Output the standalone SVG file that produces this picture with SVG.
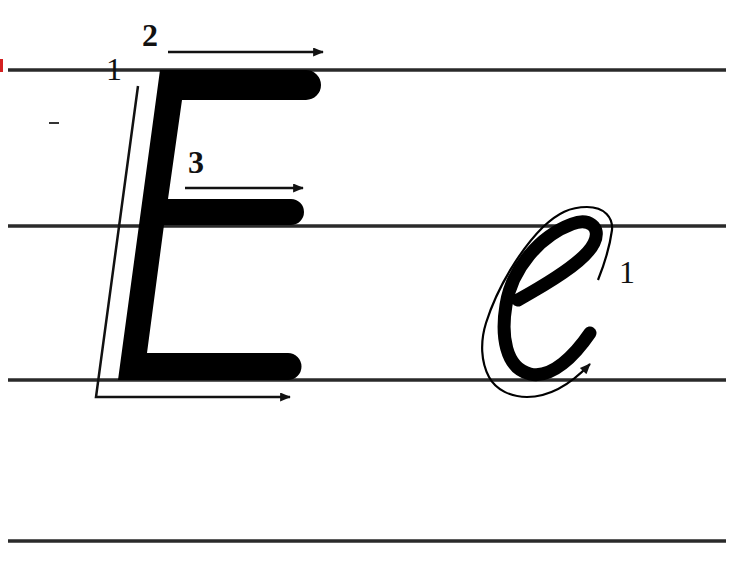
<svg xmlns="http://www.w3.org/2000/svg" width="748" height="576" viewBox="0 0 748 576">
  <defs>
    <style>
      .rule { stroke: #2a2a2a; stroke-width: 3.5; fill: none; }
      .guide { stroke: #111; stroke-width: 2.5; fill: none; }
      .num { font-family: "Liberation Serif", "DejaVu Serif", serif; font-size: 32px; fill: #111; }
    </style>
    <marker id="ah" viewBox="0 0 12 10" refX="11" refY="5" markerWidth="14" markerHeight="9" markerUnits="userSpaceOnUse" orient="auto">
      <path d="M0,0 L12,5 L0,10 z" fill="#111"/>
    </marker>
  </defs>
  <rect width="748" height="576" fill="#fff"/>

  <g id="ruling">
    <rect x="0" y="59" width="3" height="13" fill="#d42020"/>
    <line class="rule" x1="8" y1="70" x2="726" y2="70"/>
    <line class="rule" x1="8" y1="226" x2="726" y2="226"/>
    <line class="rule" x1="8" y1="380" x2="726" y2="380"/>
    <line class="rule" x1="8" y1="541" x2="726" y2="541"/>
    <line x1="49" y1="123" x2="59" y2="123" stroke="#333" stroke-width="2"/>
  </g>

  <g id="letter-E">
    <path d="M160,70 L306,70 A15,15 0 0 1 306,100 L182,100 L168,199 L291,199 A13,13 0 0 1 291,225 L164,225 L147,353 L288,353 A13.5,13.5 0 0 1 288,380 L118,380 Z" fill="#000"/>
  </g>

  <g id="letter-e">
    <path d="M518,300 C545,285 585,262 594,243 C602,226 588,218 572,224 C540,236 512,268 506,305 C501,335 505,368 530,374 C552,379 575,355 590,333" fill="none" stroke="#000" stroke-width="13" stroke-linecap="round"/>
    <path d="M598,280 C604,265 610,245 612,230 C613,218 605,207 587,207 C570,207 558,213 543,227 C522,248 498,285 486,323 C480,342 481,362 489,377 C496,390 511,397 527,397 C548,397 570,385 590,364" fill="none" stroke="#000" stroke-width="2.2" marker-end="url(#ah)"/>
  </g>

  <g id="connectors">
    <line class="guide" x1="168" y1="52" x2="323" y2="52" marker-end="url(#ah)"/>
    <line class="guide" x1="185" y1="188" x2="303" y2="188" marker-end="url(#ah)"/>
    <polyline class="guide" points="138,86 96,397 290,397" marker-end="url(#ah)"/>
  </g>

  <g id="labels">
    <text class="num" x="142" y="46" font-weight="bold">2</text>
    <text class="num" x="106" y="80">1</text>
    <text class="num" x="188" y="173" font-weight="bold">3</text>
    <text class="num" x="619" y="283" font-size="28">1</text>
  </g>
</svg>
